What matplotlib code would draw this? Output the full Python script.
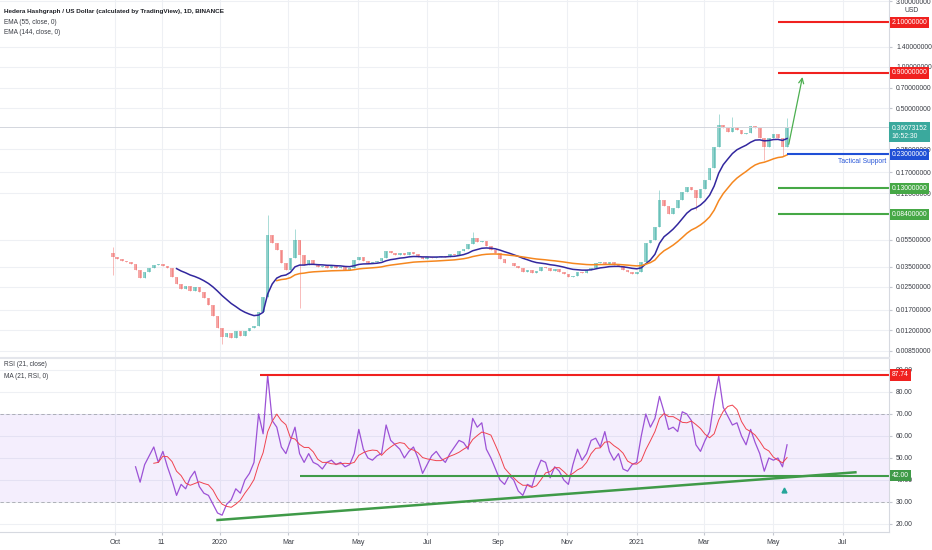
import numpy as np
import pandas as pd
import matplotlib
matplotlib.use('Agg')
import matplotlib.pyplot as plt
from matplotlib.ticker import NullLocator
from matplotlib.transforms import blended_transform_factory

plt.rcParams['font.family'] = ['Liberation Sans', 'DejaVu Sans']

# day 0 = 2019-10-01, one candle every 4 days starting at day -2
closes = [0.0411, 0.0397, 0.0385, 0.0378, 0.0365, 0.0330, 0.0289, 0.0320, 0.0342, 0.0359,
          0.0365, 0.0353, 0.0342, 0.0294, 0.0261, 0.0240, 0.0252, 0.0232, 0.0248, 0.0228,
          0.0206, 0.0184, 0.0153, 0.0125, 0.0107, 0.0115, 0.0105, 0.0119, 0.0109, 0.0119,
          0.0125, 0.0129, 0.0164, 0.0210, 0.0594, 0.0520, 0.0462, 0.0371, 0.0330, 0.0404,
          0.0547, 0.0425, 0.0359, 0.0391, 0.0365, 0.0347, 0.0353, 0.0342, 0.0353, 0.0342,
          0.0347, 0.0330, 0.0342, 0.0391, 0.0411, 0.0385, 0.0371, 0.0378, 0.0385, 0.0404,
          0.0455, 0.0440, 0.0425, 0.0440, 0.0425, 0.0447, 0.0432, 0.0411, 0.0397, 0.0411,
          0.0404, 0.0411, 0.0418, 0.0411, 0.0432, 0.0425, 0.0455, 0.0470, 0.0511, 0.0566,
          0.0529, 0.0538, 0.0494, 0.0462, 0.0440, 0.0397, 0.0371, 0.0371, 0.0353, 0.0342,
          0.0320, 0.0330, 0.0314, 0.0325, 0.0347, 0.0342, 0.0325, 0.0336, 0.0320, 0.0309,
          0.0294, 0.0299, 0.0320, 0.0314, 0.0330, 0.0342, 0.0371, 0.0378, 0.0365, 0.0378,
          0.0359, 0.0353, 0.0330, 0.0320, 0.0309, 0.0320, 0.0378, 0.0520, 0.0547, 0.0679,
          0.107, 0.0964, 0.0845, 0.0930, 0.107, 0.122, 0.134, 0.126, 0.110, 0.128,
          0.150, 0.183, 0.258, 0.376, 0.357, 0.335, 0.363, 0.346, 0.323, 0.329,
          0.369, 0.357, 0.301, 0.258, 0.301, 0.323, 0.301, 0.258, 0.36073152]
first_day = -2
open_first = 0.0440
wick_hi_days = [-2, 134, 158, 314, 478, 530, 542, 590]
wick_hi = [0.0486, 0.083, 0.066, 0.062, 0.126, 0.455, 0.43, 0.42]
wick_lo_days = [-2, 94, 162, 510, 570, 586]
wick_lo = [0.0304, 0.0095, 0.0175, 0.090, 0.209, 0.222]

rsi_vals = [46, 39, 47, 51, 55, 48, 53, 46, 40, 33,
            38, 36, 41, 44, 37, 34, 33, 29, 25, 24,
            29, 31, 36, 34, 40, 43, 48, 70, 61, 87.7,
            67, 64, 55, 52, 58, 64, 52, 48, 52, 48,
            47, 45, 48, 49, 47, 48, 46, 47, 52, 63,
            54, 50, 49, 51, 52, 65, 58, 56, 54, 50,
            53, 55, 50, 43, 47, 51, 53, 50, 48, 52,
            55, 58, 57, 54, 68, 64, 66, 54, 50, 45,
            40, 38, 42, 40, 35, 33, 38, 37, 44, 49,
            48, 41, 46, 44, 40, 38, 47, 54, 49, 52,
            58, 59, 55, 62, 53, 49, 52, 45, 44, 47,
            48, 60, 70, 64, 68, 78, 71, 63, 64, 62,
            71, 70, 67, 56, 53, 58, 62, 76, 87.2, 73,
            69, 65, 66, 60, 56, 63, 57, 52, 44, 50,
            49, 50, 46, 56]
rsi_first_day = 18

tick_days = [0, 41, 92, 152, 213, 274, 336, 397, 458, 517, 578, 639]
tick_labels = ['Oct', '11', '2020', 'Mar', 'May', 'Jul', 'Sep', 'Nov', '2021', 'Mar', 'May', 'Jul']
price_ticks = [3.0, 1.4, 1.0, 0.7, 0.5, 0.25, 0.17, 0.12, 0.055, 0.035, 0.025, 0.017, 0.012, 0.0085]
rsi_ticks = [20, 30, 40, 50, 60, 70, 80, 90]

levels = [2.1, 0.9, 0.23, 0.13, 0.084]
level_colors = ['#f0211f', '#f0211f', '#1f4fd6', '#46a846', '#46a846']
level_start = [582, 582, 590, 582, 582]
last_price = 0.36073152
arrow_from = (591, 0.26)
arrow_to = (604, 0.88)

rsi_high, rsi_high_start = 87.74, 127
rsi_support, rsi_support_start = 42.0, 162
trend_days = [90, 650]
trend_vals = [21.8, 43.5]
signal_day, signal_val = 587, 35.5

XMIN, XMAX = -101, 679.5
txt = '#3a3d45'
grid = '#eef0f4'
fs_ax = 4.9
fs_txt = 4.7

days = np.arange(first_day, first_day + 4 * len(closes), 4)
c = np.array(closes)
o = np.concatenate([[open_first], c[:-1]])
hi = np.maximum(o, c)
lo = np.minimum(o, c)
for d, v in zip(wick_hi_days, wick_hi):
    hi[days == d] = v
for d, v in zip(wick_lo_days, wick_lo):
    lo[days == d] = v

s = pd.Series(c)
def ema(n):
    a = 1 - (1 - 2 / (n + 1)) ** 4
    e = s.ewm(alpha=a, adjust=False).mean()
    e[days < first_day + n - 1] = np.nan
    return e

fig = plt.figure(figsize=(9.32, 5.5), dpi=100)
ax = fig.add_axes([0, 193 / 550, 889 / 932, 357 / 550])
ax2 = fig.add_axes([0, 18 / 550, 889 / 932, 174 / 550])

# ---- price panel
ax.set_yscale('log')
ax.set_xlim(XMIN, XMAX)
ax.set_ylim(0.00768, 3.06)
ax.yaxis.set_minor_locator(NullLocator())
ax.set_yticks(price_ticks, [f'{v:.8f}' for v in price_ticks])
ax.set_xticks(tick_days, [''] * len(tick_days))
ax.yaxis.tick_right()
ax.tick_params(axis='y', labelsize=fs_ax, colors='#c5c8d0', labelcolor=txt, length=2, pad=3)
ax.tick_params(axis='x', length=0)
ax.grid(color=grid, lw=0.8)
ax.set_axisbelow(True)
for sp in ['top', 'left']:
    ax.spines[sp].set_visible(False)
ax.spines['right'].set_color('#d6d9e0')
ax.spines['bottom'].set_color('#e4e6ec')

up = c >= o
body_col = np.where(up, '#26a69a', '#ef5350')
ax.vlines(days, lo, hi, colors=body_col, lw=0.6, alpha=0.45)
ax.bar(days, np.maximum(np.abs(c - o), 1e-6), bottom=np.minimum(o, c), width=3.2,
       color=body_col, alpha=0.5, linewidth=0)

ax.plot(days, ema(55), color='#32279e', lw=1.1)
ax.plot(days, ema(144), color='#f5871f', lw=1.1)
ax.axhline(last_price, color='#d3d6dd', lw=0.7)

for lv, col, st in zip(levels, level_colors, level_start):
    ax.hlines(lv, st, XMAX, color=col, lw=1.5)
ax.annotate('', xy=arrow_to, xytext=arrow_from,
            arrowprops=dict(arrowstyle='->', color='#4caf50', lw=0.9, mutation_scale=9))
ax.text(XMAX - 2, 0.218, 'Tactical Support', color='#2856d8', fontsize=fs_txt + 0.2, ha='right', va='top')

tr = blended_transform_factory(ax.transAxes, ax.transData)
for lv, col in zip(levels, level_colors):
    ax.text(1.003, lv, f'{lv:.8f}', transform=tr, fontsize=fs_ax, color='white', va='center', ha='left',
            bbox=dict(boxstyle='square,pad=0.3', fc=col, ec='none'), zorder=5)
ax.text(1.003, last_price * 1.045, f'{last_price:.8f}\n16:52:30', transform=tr, fontsize=fs_ax,
        color='white', va='top', ha='left', linespacing=1.2,
        bbox=dict(boxstyle='square,pad=0.35', fc='#3aa99d', ec='none'), zorder=5)
fig.text(912 / 932, 1 - 10 / 550, 'USD', fontsize=fs_ax, color=txt, ha='center', va='center')

fig.text(4 / 932, 1 - 11 / 550, 'Hedera Hashgraph / US Dollar (calculated by TradingView), 1D, BINANCE',
         fontsize=4.55, color='#202228', fontweight='bold', va='center')
fig.text(4 / 932, 1 - 22 / 550, 'EMA (55, close, 0)', fontsize=fs_txt, color=txt, va='center')
fig.text(4 / 932, 1 - 33 / 550, 'EMA (144, close, 0)', fontsize=fs_txt, color=txt, va='center')

# ---- RSI panel
rdays = np.arange(rsi_first_day, rsi_first_day + 4 * len(rsi_vals), 4)
r = pd.Series(rsi_vals, dtype=float)
ax2.set_xlim(XMIN, XMAX)
ax2.set_ylim(16.36, 95.45)
ax2.set_yticks(rsi_ticks, [f'{v:.2f}' for v in rsi_ticks])
ax2.set_xticks(tick_days, tick_labels)
ax2.yaxis.tick_right()
ax2.tick_params(axis='y', labelsize=fs_ax, colors='#c5c8d0', labelcolor=txt, length=2, pad=3)
ax2.tick_params(axis='x', labelsize=fs_ax + 0.2, colors='#c5c8d0', labelcolor=txt, length=2, pad=3)
ax2.grid(color=grid, lw=0.8)
ax2.set_axisbelow(True)
ax2.spines['left'].set_visible(False)
ax2.spines['top'].set_color('#e4e6ec')
ax2.spines['right'].set_color('#d6d9e0')
ax2.spines['bottom'].set_color('#d6d9e0')

ax2.axhspan(30, 70, color='#8a4df0', alpha=0.09, lw=0)
for b in (70, 30):
    ax2.axhline(b, color='#a3a6ae', lw=0.6, ls=(0, (4, 3)))
ax2.plot(rdays, r, color='#9c52d6', lw=0.9)
ax2.plot(rdays, r.rolling(5).mean(), color='#f0434f', lw=0.7)
ax2.hlines(rsi_high, rsi_high_start, XMAX, color='#f0211f', lw=1.5)
ax2.hlines(rsi_support, rsi_support_start, XMAX, color='#3f9a48', lw=1.5)
ax2.plot(trend_days, trend_vals, color='#3f9a48', lw=1.8)
ax2.plot([signal_day], [signal_val], marker='^', ms=3.5, color='#26a69a', ls='none')

tr2 = blended_transform_factory(ax2.transAxes, ax2.transData)
ax2.text(1.003, rsi_high, f'{rsi_high:.2f}', transform=tr2, fontsize=fs_ax, color='white', va='center',
         bbox=dict(boxstyle='square,pad=0.3', fc='#f0211f', ec='none'), zorder=5)
ax2.text(1.003, rsi_support, f'{rsi_support:.2f}', transform=tr2, fontsize=fs_ax, color='white', va='center',
         bbox=dict(boxstyle='square,pad=0.3', fc='#3f9a48', ec='none'), zorder=5)
fig.text(4 / 932, 1 - 365 / 550, 'RSI (21, close)', fontsize=fs_txt, color=txt, va='center')
fig.text(4 / 932, 1 - 377 / 550, 'MA (21, RSI, 0)', fontsize=fs_txt, color=txt, va='center')

fig.savefig('out.png', dpi=100, facecolor='white')
